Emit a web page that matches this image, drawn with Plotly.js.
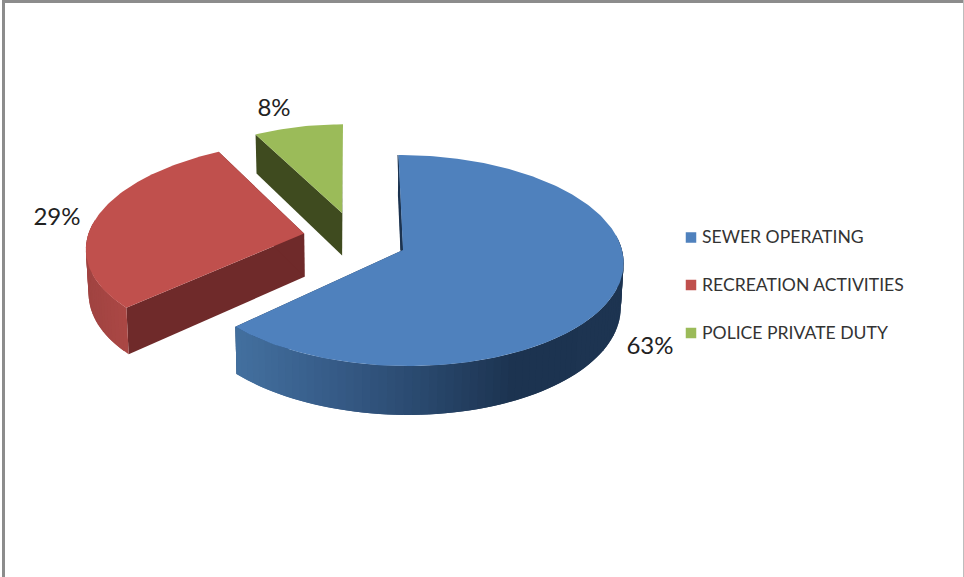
<!DOCTYPE html>
<html>
<head>
<meta charset="utf-8">
<script src="https://cdn.plot.ly/plotly-3.0.1.min.js"></script>
<style>html,body{margin:0;padding:0;background:#fff;overflow:hidden}#chart{width:964px;height:577px}</style>
</head>
<body>
<div id="chart"></div>
<script>
// Budget shares by fund
const categories = ["SEWER OPERATING", "RECREATION ACTIVITIES", "POLICE PRIVATE DUTY"];
const shares = [63, 29, 8];

// Slice styling
const topColors = ["#4f81bd", "#c0504d", "#9bbb59"];
const cutColors = ["#1c3350", "#6f2a2a", "#3f4b1f"];
const rimRamps = [
  [[234, "#43709f"], [330, "#365b87"], [420, "#29486d"], [510, "#1c3350"], [640, "#1d3451"]],
  [[85, "#a04341"], [130, "#ac4845"]],
  [[250, "#3f4b1f"], [350, "#3f4b1f"]]
];

// Each slice is pulled away from the pie centre, in units of the radius
const pullU = [0, -0.461, -0.28];
const pullV = [0, 0.16, 0.366];
// Per-slice lens correction: horizontal shear and horizontal scale of the rim
const sliceSkew = [-5, 3, -5];
const sliceScale = [1, 1, 0.93];

// Perspective view of the pie disc, in page pixels
const view = {cx: 403, cy: 250, rx: 219, ry: 104.5, persp: 0.0995, depth: 44, vanishX: 347, narrow: 0.0104};

// Where the percentage labels and the key are placed
const labelX = [650, 57, 274];
const labelY = [348, 219, 110];
const keyX = [691, 691, 691];
const keyY = [237.5, 285, 333];
const keyTextX = [702, 702, 702];
const keyTextY = [238.5, 287, 334.5];

function project(u, v, lower, skew) {
  const d = 1 + view.persp * v;
  let x = view.cx + (view.rx * u + skew * v) / d;
  let y = view.cy - view.ry * v / d;
  if (lower) {
    y += view.depth / d;
    x -= (x - view.vanishX) * view.narrow;
  }
  return [x, y];
}

function hex(c) { return [1, 3, 5].map(i => parseInt(c.substr(i, 2), 16)); }
function rampColor(ramp, x) {
  if (x <= ramp[0][0]) return ramp[0][1];
  for (let i = 1; i < ramp.length; i++) {
    if (x <= ramp[i][0]) {
      const t = (x - ramp[i - 1][0]) / (ramp[i][0] - ramp[i - 1][0]);
      const a = hex(ramp[i - 1][1]), b = hex(ramp[i][1]);
      return "rgb(" + a.map((q, k) => Math.round(q + (b[k] - q) * t)).join(",") + ")";
    }
  }
  return ramp[ramp.length - 1][1];
}

function poly(points, color) {
  return {
    type: "scatter", mode: "lines", fill: "toself", fillcolor: color,
    x: points.map(p => p[0]), y: points.map(p => p[1]),
    line: {color: color, width: 0}, hoverinfo: "skip", showlegend: false
  };
}

const total = shares.reduce((a, b) => a + b, 0);
const traces = [];
let running = 0;

shares.forEach((share, i) => {
  const a0 = running / total * 2 * Math.PI;
  running += share;
  const a1 = running / total * 2 * Math.PI;
  const at = (a, lower) => project(pullU[i] + sliceScale[i] * Math.sin(a), pullV[i] + Math.cos(a), lower, sliceSkew[i]);
  const apex = project(pullU[i], pullV[i], false, sliceSkew[i]);
  const apexLow = project(pullU[i], pullV[i], true, sliceSkew[i]);

  // Flat cut walls
  [a0, a1].forEach(a => {
    traces.push(poly([apex, at(a, false), at(a, true), apexLow], cutColors[i]));
  });
  if (i === 0) {
    // Sliver of the inner wall seen along the first cut
    const r = at(a0, false);
    traces.push(poly([r, apex, [apex[0] - 2.5, apex[1]], [r[0] - 1, r[1]]], cutColors[i]));
  }

  // Curved outer wall, in overlapping strips so its shade can change along the rim.
  // Only the near half of the rim can be seen.
  const stepA = 2 * Math.PI / 180;
  const strips = Math.ceil((a1 - a0) / stepA);
  for (let k = 0; k < strips; k++) {
    const s0 = a0 + (a1 - a0) * k / strips;
    const s1 = Math.min(a1, s0 + 2 * (a1 - a0) / strips);
    if (Math.cos((s0 + s1) / 2) > 0.12) continue;
    const p0 = at(s0, false), p1 = at(s1, false);
    traces.push(poly([p0, p1, at(s1, true), at(s0, true)], rampColor(rimRamps[i], (p0[0] + p1[0]) / 2)));
  }

  // Top face
  const rim = [apex];
  const steps = Math.ceil((a1 - a0) / (Math.PI / 180));
  for (let k = 0; k <= steps; k++) rim.push(at(a0 + (a1 - a0) * k / steps, false));
  traces.push(poly(rim, topColors[i]));
});

// Percentage labels
traces.push({
  type: "scatter", mode: "text", x: labelX, y: labelY,
  text: shares.map(v => v + "%"), textposition: "middle center",
  textfont: {family: "Lato, Carlito, sans-serif", size: 24, color: "#222222"},
  hoverinfo: "skip", showlegend: false
});

// Key
categories.forEach((name, i) => {
  traces.push({
    type: "scatter", mode: "markers", name: name,
    x: [keyX[i]], y: [keyY[i]],
    marker: {symbol: "square", size: 10.5, color: topColors[i]},
    hoverinfo: "name", showlegend: false
  });
  traces.push({
    type: "scatter", mode: "text", name: name,
    x: [keyTextX[i]], y: [keyTextY[i]], text: [name], textposition: "middle right",
    textfont: {family: "Lato, Carlito, sans-serif", size: 17.6, color: "#333333"},
    hoverinfo: "skip", showlegend: false
  });
});

const layout = {
  width: 964, height: 577,
  margin: {l: 0, r: 0, t: 0, b: 0},
  paper_bgcolor: "#ffffff", plot_bgcolor: "#ffffff",
  showlegend: false,
  xaxis: {range: [0, 964], visible: false, fixedrange: true},
  yaxis: {range: [577, 0], visible: false, fixedrange: true},
  shapes: [
    {type: "rect", xref: "x", yref: "y", x0: 2, x1: 5, y0: 0, y1: 577, fillcolor: "#8c8c8c", line: {width: 0}},
    {type: "rect", xref: "x", yref: "y", x0: 2, x1: 964, y0: 0, y1: 3, fillcolor: "#8c8c8c", line: {width: 0}},
    {type: "rect", xref: "x", yref: "y", x0: 963, x1: 964, y0: 0, y1: 577, fillcolor: "#bdbdbd", line: {width: 0}}
  ]
};

Plotly.newPlot("chart", traces, layout, {displayModeBar: false, responsive: false});
</script>
</body>
</html>
